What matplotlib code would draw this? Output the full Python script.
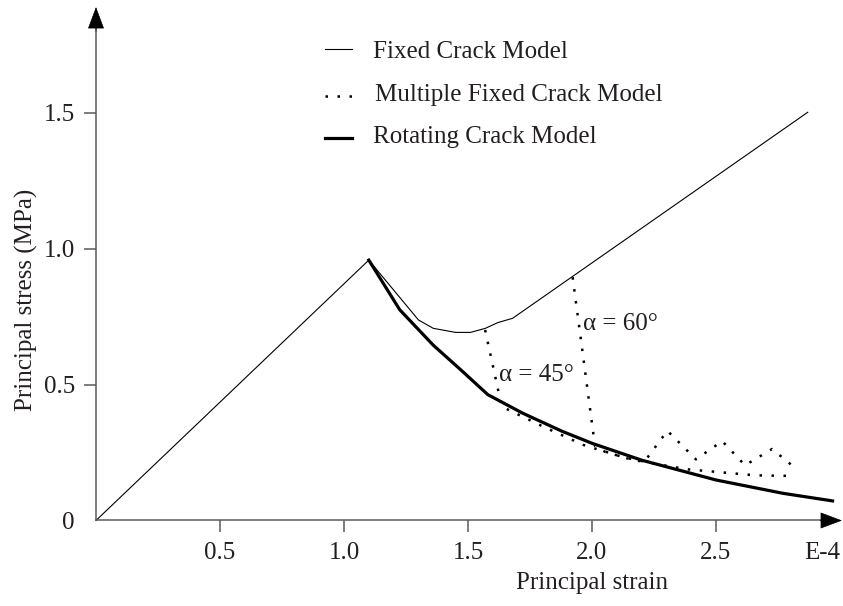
import matplotlib
matplotlib.use('Agg')
import matplotlib.pyplot as plt

plt.rcParams['font.family'] = 'Liberation Serif'
plt.rcParams['font.size'] = 18

# principal strain (E-4) / principal stress (MPa)
fixed_x = [0.0, 1.10, 1.30, 1.36, 1.45, 1.51, 1.57, 1.62, 1.68, 2.87]
fixed_y = [0.0, 0.958, 0.738, 0.707, 0.692, 0.692, 0.707, 0.728, 0.744, 1.502]

rot_x = [1.10, 1.225, 1.36, 1.47, 1.58, 1.72, 1.88, 2.00, 2.20, 2.50, 2.77, 2.97]
rot_y = [0.958, 0.775, 0.645, 0.555, 0.463, 0.395, 0.328, 0.284, 0.222, 0.149, 0.100, 0.072]

mfc45_x = [1.569, 1.636, 1.804, 1.965, 2.126, 2.258, 2.388, 2.525, 2.660, 2.796]
mfc45_y = [0.701, 0.419, 0.345, 0.278, 0.233, 0.208, 0.188, 0.177, 0.166, 0.164]

mfc60_x = [1.922, 2.012, 2.052, 2.140, 2.210, 2.304, 2.419, 2.525, 2.617, 2.726, 2.825]
mfc60_y = [0.895, 0.274, 0.253, 0.229, 0.215, 0.330, 0.225, 0.292, 0.203, 0.263, 0.189]

xticks = [0.5, 1.0, 1.5, 2.0, 2.5]
xticklabels = ['0.5', '1.0', '1.5', '2.0', '2.5']
yticks = [0.0, 0.5, 1.0, 1.5]
yticklabels = ['0', '0.5', '1.0', '1.5']

txt = '#231f20'
axis_col = '#5a5a5a'
dots = (0, (1, 3.8))

fig = plt.figure(figsize=(8.43, 6.06), dpi=100)
ax = fig.add_axes([0, 0, 1, 1])
ax.set_xlim(-0.3871, 3.0121)
ax.set_ylim(-0.3146, 1.915)
ax.patch.set_alpha(0)

ax.plot(fixed_x, fixed_y, color='black', lw=0.8)
ax.plot(rot_x, rot_y, color='black', lw=2.3)
ax.plot(mfc45_x, mfc45_y, color='black', lw=1.8, ls=dots)
ax.plot(mfc60_x, mfc60_y, color='black', lw=1.8, ls=dots)

# axes with arrow heads
for s in ['top', 'right']:
    ax.spines[s].set_visible(False)
ax.spines['left'].set_position(('data', 0))
ax.spines['bottom'].set_position(('data', 0))
ax.spines['left'].set_bounds(0, 1.84)
ax.spines['bottom'].set_bounds(0, 2.96)
for s in ['left', 'bottom']:
    ax.spines[s].set_color(axis_col)
    ax.spines[s].set_linewidth(1.1)

head = '-|>,head_length=0.8,head_width=0.3'
ax.annotate('', xy=(0, 1.889), xytext=(0, 1.80),
            arrowprops=dict(arrowstyle=head, mutation_scale=18, color='black',
                            lw=0.5, shrinkA=0, shrinkB=0))
ax.annotate('', xy=(3.008, 0), xytext=(2.92, 0),
            arrowprops=dict(arrowstyle=head, mutation_scale=18, color='black',
                            lw=0.5, shrinkA=0, shrinkB=0))

ax.set_xticks(xticks + [2.93])
ax.set_xticklabels(xticklabels + ['E-4'], color=txt)
ax.set_yticks(yticks)
ax.set_yticklabels(yticklabels, color=txt)
ax.tick_params(direction='out', length=8.3, width=1.1, color=axis_col, pad=7)
ax.xaxis.get_major_ticks()[-1].tick1line.set_visible(False)
ax.yaxis.get_major_ticks()[0].tick1line.set_visible(False)

ax.text(2.002, -0.23, 'Principal strain', ha='center', va='center', color=txt)
ax.text(-0.28, 0.811, 'Principal stress (MPa)', rotation=90,
        ha='center', va='center', color=txt)

# legend
ax.plot([0.923, 1.031], [1.734, 1.734], color='black', lw=0.8)
ax.plot([0.923, 1.031], [1.562, 1.562], color='black', lw=1.8, ls=dots)
ax.plot([0.923, 1.031], [1.406, 1.406], color='black', lw=2.3)
ax.text(1.118, 1.703, 'Fixed Crack Model', va='baseline', color=txt)
ax.text(1.125, 1.545, 'Multiple Fixed Crack Model', va='baseline', color=txt)
ax.text(1.118, 1.388, 'Rotating Crack Model', va='baseline', color=txt)

ax.text(1.626, 0.515, 'α = 45°', va='baseline', color=txt)
ax.text(1.965, 0.701, 'α = 60°', va='baseline', color=txt)

fig.savefig('out.png', dpi=100)
